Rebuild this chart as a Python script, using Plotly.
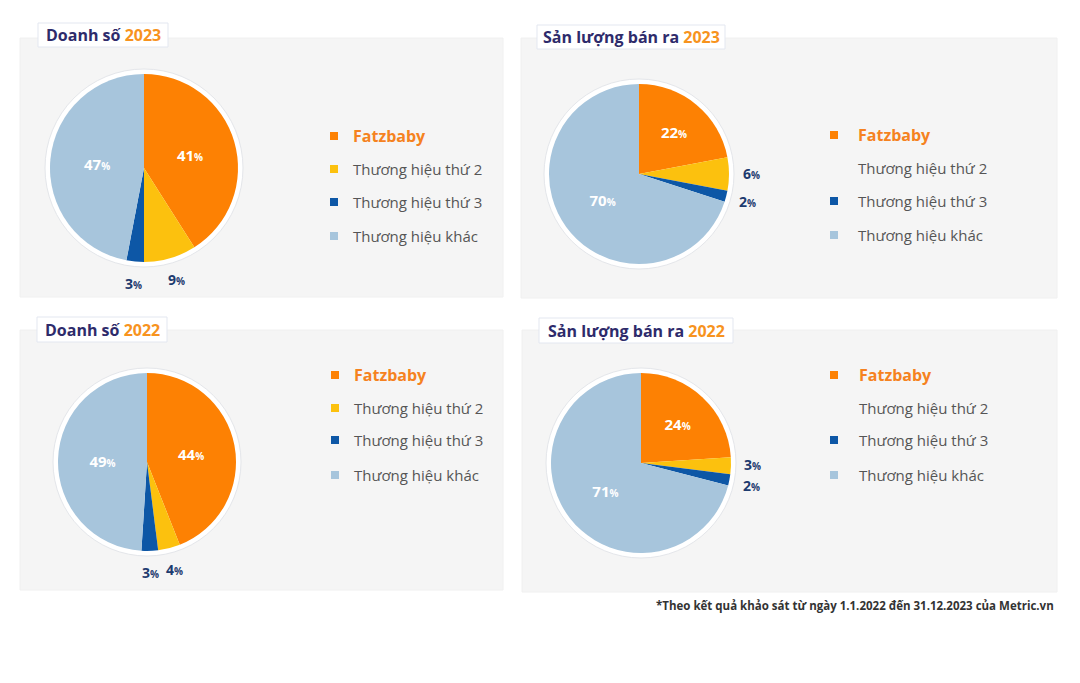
import math
import plotly.graph_objects as go

W, H = 1080, 683

# ---------------- data ----------------
categories = ["Fatzbaby", "Thương hiệu thứ 2", "Thương hiệu thứ 3", "Thương hiệu khác"]
doanh_so_2023 = [41, 9, 3, 47]
san_luong_2023 = [22, 6, 2, 70]
doanh_so_2022 = [44, 4, 3, 49]
san_luong_2022 = [24, 3, 2, 71]

titles_main = ["Doanh số", "Sản lượng bán ra", "Doanh số", "Sản lượng bán ra"]
titles_year = ["2023", "2023", "2022", "2022"]
footnote = "*Theo kết quả khảo sát từ ngày 1.1.2022 đến 31.12.2023 của Metric.vn"

# which slices carry their label inside (True) or outside (False)
label_inside = [True, False, False, True]

# ---------------- style ----------------
colors = ["#FD8103", "#FCC10E", "#0D57A6", "#A7C5DC"]
navy = "#2E2B6B"
orange_txt = "#F7931E"
legend_grey = "#555555"
outside_col = "#1D3B6F"
FONT = "Open Sans"

# layout geometry (pixels)
panels = [  # x0, y0, x1, y1
    (20, 38, 503, 297),
    (521, 38, 1057, 298),
    (20, 330, 503, 590),
    (522, 330, 1057, 592),
]
pies = [  # cx, cy, r
    (144, 168, 94),
    (639, 174, 90),
    (147, 462, 89),
    (641, 463, 90),
]
outside_gap = 22
min_label_sep = 21
title_boxes = [  # x0, y0, x1, y1
    (38, 23, 168, 47),
    (537, 25, 725, 49),
    (37, 317, 167, 342),
    (539, 318, 733, 343),
]
legend_marker_x = [334, 834, 335, 834]
legend_text_x = [351, 856, 352, 857]
legend_rows = [
    [136, 169, 202, 236],
    [135, 168, 201, 235],
    [375, 408, 440, 475],
    [375, 408, 440, 475],
]
legend_marker_show = [
    [True, True, True, True],
    [True, False, True, True],
    [True, True, True, True],
    [True, False, True, True],
]


def fx(x):
    return x / W


def fy(y):
    return 1 - y / H


def pct_html(v, small=10):
    return f"<b>{v}</b><span style='font-size:{small}px'><b>%</b></span>"


series = [doanh_so_2023, san_luong_2023, doanh_so_2022, san_luong_2022]

fig = go.Figure()
shapes = []
annotations = []

for i, vals in enumerate(series):
    x0, y0, x1, y1 = panels[i]
    shapes.append(dict(type="rect", xref="paper", yref="paper",
                       x0=fx(x0), x1=fx(x1), y0=fy(y1), y1=fy(y0),
                       fillcolor="#F5F5F5", line=dict(color="#F0F0F0", width=1),
                       layer="below"))
    bx0, by0, bx1, by1 = title_boxes[i]
    shapes.append(dict(type="rect", xref="paper", yref="paper",
                       x0=fx(bx0), x1=fx(bx1), y0=fy(by1), y1=fy(by0),
                       fillcolor="#FFFFFF", line=dict(color="#E3E7F0", width=1),
                       layer="below"))
    annotations.append(dict(
        xref="paper", yref="paper", x=fx((bx0 + bx1) / 2), y=fy((by0 + by1) / 2),
        xanchor="center", yanchor="middle", showarrow=False,
        text=f"<b>{titles_main[i]} <span style='color:{orange_txt}'>{titles_year[i]}</span></b>",
        font=dict(family=FONT, size=16, color=navy)))

    cx, cy, r = pies[i]
    ring = 5
    shapes.append(dict(type="circle", xref="paper", yref="paper",
                       x0=fx(cx - r - ring), x1=fx(cx + r + ring),
                       y0=fy(cy + r + ring), y1=fy(cy - r - ring),
                       fillcolor="#FFFFFF", line=dict(color="#E4E6EA", width=1),
                       layer="below"))

    texts = [pct_html(v) if ins else "" for v, ins in zip(vals, label_inside)]

    fig.add_trace(go.Pie(
        labels=categories, values=vals, sort=False, direction="clockwise",
        rotation=0, marker=dict(colors=colors, line=dict(width=0)),
        text=texts, textinfo="text", textposition="inside",
        insidetextorientation="horizontal",
        insidetextfont=dict(family=FONT, size=15, color="#FFFFFF"),
        domain=dict(x=[fx(cx - r), fx(cx + r)], y=[fy(cy + r), fy(cy - r)]),
        showlegend=False, hoverinfo="label+percent",
    ))

    # outside labels for the small slices, placed on each slice's mid-angle
    total = sum(vals)
    cum = 0
    outs = []
    for v, ins in zip(vals, label_inside):
        mid = (cum + v / 2) / total * 2 * math.pi
        cum += v
        if ins:
            continue
        d = r + outside_gap
        outs.append([v, cx + d * math.sin(mid), cy - d * math.cos(mid)])
    # keep vertically stacked labels apart (as a pie library would)
    if len(outs) == 2:
        (va, xa, ya), (vb, xb, yb) = outs
        if abs(xa - xb) < 20 and abs(ya - yb) < min_label_sep:
            deficit = min_label_sep - abs(ya - yb)
            sgn = 1 if yb >= ya else -1
            outs[0][2] -= sgn * deficit / 2
            outs[1][2] += sgn * deficit / 2
    for v, lx, ly in outs:
        annotations.append(dict(
            xref="paper", yref="paper", x=fx(lx), y=fy(ly),
            xanchor="center", yanchor="middle", showarrow=False,
            text=pct_html(v, 10),
            font=dict(family=FONT, size=14, color=outside_col)))

    # custom legend
    for j, cat in enumerate(categories):
        ry = legend_rows[i][j]
        mx = legend_marker_x[i]
        if legend_marker_show[i][j]:
            shapes.append(dict(type="rect", xref="paper", yref="paper",
                               x0=fx(mx - 4), x1=fx(mx + 4), y0=fy(ry + 4), y1=fy(ry - 4),
                               fillcolor=colors[j], line=dict(width=0)))
        if j == 0:
            txt = f"<b>{cat}</b>"
            fcol = "#F58220"
            fsize = 16
        else:
            txt = cat
            fcol = legend_grey
            fsize = 15
        annotations.append(dict(
            xref="paper", yref="paper", x=fx(legend_text_x[i]), y=fy(ry),
            xanchor="left", yanchor="middle", showarrow=False, text=txt,
            font=dict(family=FONT, size=fsize, color=fcol)))

annotations.append(dict(
    xref="paper", yref="paper", x=fx(1056), y=fy(605), xanchor="right", yanchor="middle",
    showarrow=False, text=f"<b>{footnote}</b>",
    font=dict(family=FONT, size=11.5, color="#333333")))

fig.update_layout(
    width=W, height=H, margin=dict(l=0, r=0, t=0, b=0),
    paper_bgcolor="#FFFFFF", plot_bgcolor="#FFFFFF",
    shapes=shapes, annotations=annotations, showlegend=False,
)

fig.write_html("out.html")
